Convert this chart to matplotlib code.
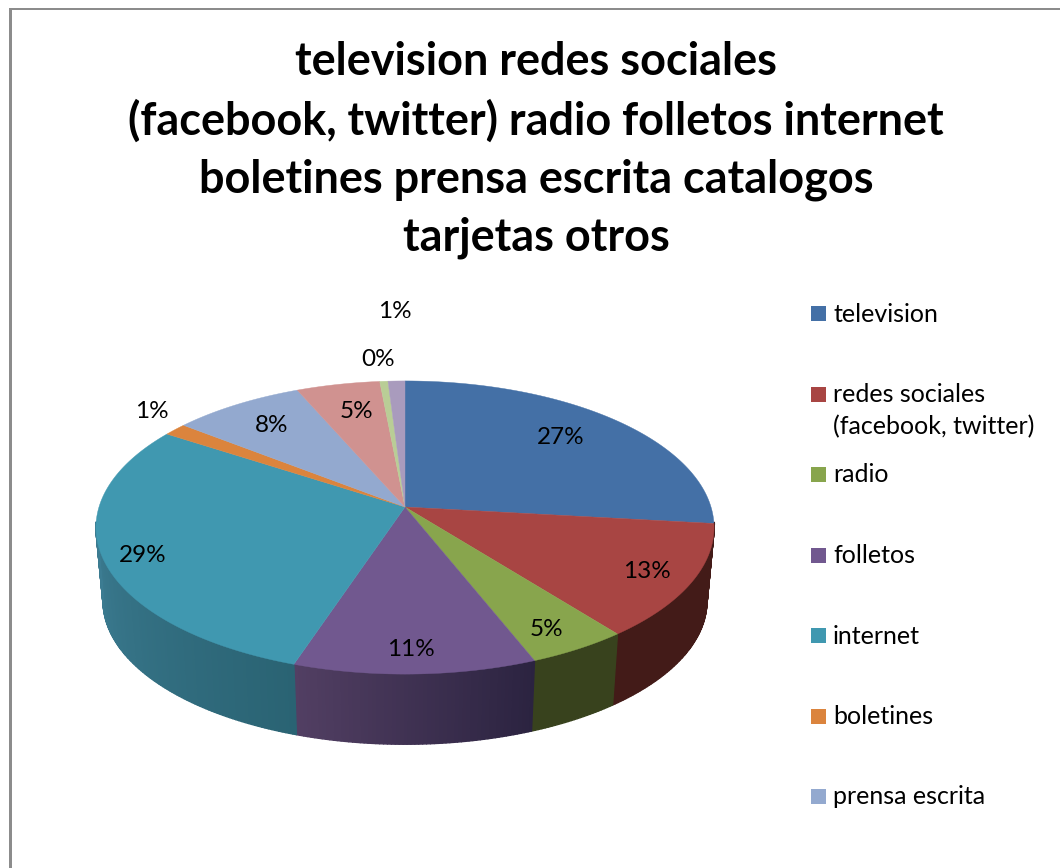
import numpy as np
import matplotlib
matplotlib.use("Agg")
import matplotlib.pyplot as plt
from matplotlib.colors import to_rgb
from matplotlib.collections import PolyCollection
from matplotlib.patches import Rectangle

plt.rcParams['font.family'] = ['Lato', 'DejaVu Sans']

categories = ["television", "redes sociales\n(facebook, twitter)", "radio", "folletos",
              "internet", "boletines", "prensa escrita", "revistas", "catalogos", "tarjetas"]
values = [26.8, 12.6, 4.6, 11.1, 29.1, 1.4, 7.9, 5.0, 0.49, 1.01]
title = "television redes sociales\n(facebook, twitter) radio folletos internet\nboletines prensa escrita catalogos\ntarjetas otros"

colors = ["#4470a6", "#a84543", "#88a54d", "#71588f", "#4098b0",
          "#db843d", "#93a9cf", "#d09290", "#b9cd96", "#a99bbd"]
# side wall colour at start and end of each slice (going clockwise)
wall_colors = [("#431b18", "#431b18"), ("#431b18", "#431b18"), ("#38421d", "#38421d"),
               ("#2b2340", "#523f63"), ("#2a6373", "#478ba4"), ("#478ba4", "#478ba4"),
               ("#7a8cab", "#7a8cab"), ("#a87674", "#a87674"), ("#95a678", "#95a678"),
               ("#887c9a", "#887c9a")]
label_xy = [(561, 437), (647, 572), (546, 630), (411, 650), (143, 555),
            (152, 412), (272, 425), (356, 412), (378, 359), (395, 311)]
legend_shown = 7

# projected pie, all in image pixels
cx, top_y, bot_y = 405, 507, 581
A, B, k = 306, 143.7, 0.14
bot_scale = 0.977


def rim(theta, y0, scale=1.0):
    """theta clockwise from 12 o'clock, goes through the perspective of the disc"""
    u, v = np.sin(theta), np.cos(theta)
    w = 1 + k * v
    return cx + scale * A * u / w, y0 - scale * B * v / w


fig = plt.figure(figsize=(10.6, 8.68), dpi=100)
ax = fig.add_axes([0, 0, 1, 1])
ax.set_xlim(0, 1060)
ax.set_ylim(868, 0)
ax.axis("off")

# page border
ax.add_patch(Rectangle((9, 8), 3, 862, facecolor="#8c8c8c", edgecolor="none"))
ax.add_patch(Rectangle((9, 8), 1053, 1.5, facecolor="#8c8c8c", edgecolor="none"))

edges = np.cumsum([0] + values) / np.sum(values) * 2 * np.pi

# side walls first, top faces cover what is behind
for i in range(len(values)):
    n = max(int((edges[i + 1] - edges[i]) * 90), 2)
    t = np.linspace(edges[i], edges[i + 1], n + 1)
    polys, cols = [], []
    c0, c1 = np.array(to_rgb(wall_colors[i][0])), np.array(to_rgb(wall_colors[i][1]))
    for j in range(n):
        if np.cos((t[j] + t[j + 1]) / 2) > -0.1:
            continue
        x1, y1 = rim(t[j:j + 2], top_y)
        x2, y2 = rim(t[j:j + 2], bot_y, bot_scale)
        polys.append([(x1[0], y1[0]), (x1[1], y1[1]), (x2[1], y2[1]), (x2[0], y2[0])])
        cols.append(c0 + (c1 - c0) * (j + 0.5) / n)
    if polys:
        ax.add_collection(PolyCollection(polys, facecolors=cols, edgecolors=cols, linewidths=1.0))

for i in range(len(values)):
    t = np.linspace(edges[i], edges[i + 1], max(int((edges[i + 1] - edges[i]) * 120), 4))
    x, y = rim(t, top_y)
    ax.fill(np.r_[cx, x], np.r_[top_y, y], color=colors[i], lw=0.3)

for v, (lx, ly) in zip(values, label_xy):
    ax.text(lx, ly, "%d%%" % round(v), fontsize=17.5, color="black", ha="center", va="center")

# legend is cut off by the chart frame, only the first ones show
for i in range(legend_shown):
    ly = 313.5 + i * 80.5
    ax.add_patch(Rectangle((811, ly - 7.5), 15, 15, facecolor=colors[i], edgecolor="none"))
    ax.text(833, ly - 11, categories[i], fontsize=18, color="black", ha="left", va="top", linespacing=1.45)

ax.text(536, 150, title, fontsize=32.4, fontweight="bold", color="black", ha="center", va="center",
        linespacing=1.46)

fig.savefig("out.png", dpi=100)
